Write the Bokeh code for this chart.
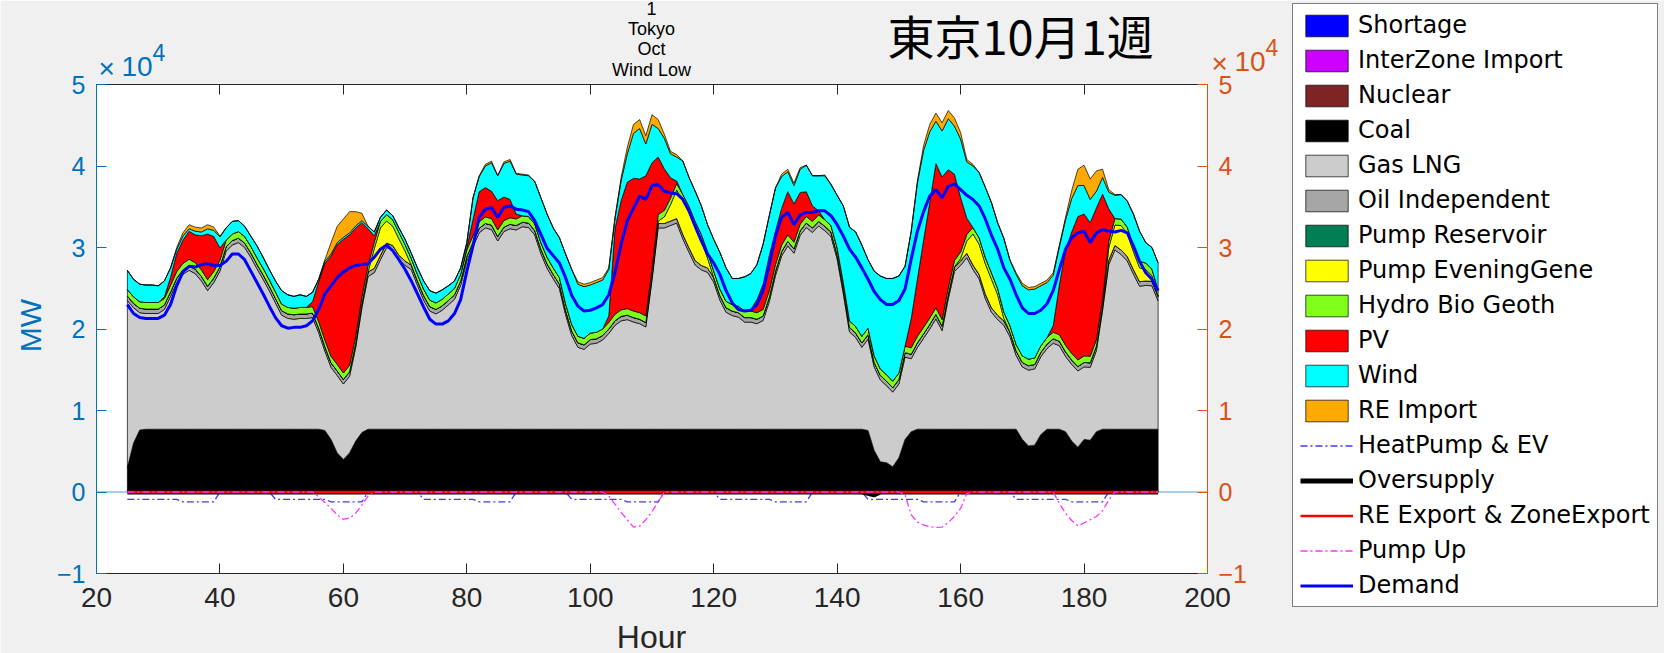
import numpy as np
from bokeh.plotting import figure
from bokeh.layouts import column
from bokeh.models import Range1d, LinearAxis, FixedTicker, Legend, LegendItem, Label, Span, CustomJSTickFormatter
from bokeh.embed import file_html
from bokeh.resources import INLINE

hours = list(range(25, 193))

coal = [3000,6000,7600,7700,7700,7700,7700,7700,7700,7700,7700,7700,7700,7700,7700,7700,7700,7700,7700,7700,7700,7700,7700,7700,
        7700,7700,7700,7700,7700,7700,7700,7700,7550,6450,4800,4000,4800,6250,7300,7700,7700,7700,7700,7700,7700,7700,7700,7700,
        7700,7700,7700,7700,7700,7700,7700,7700,7700,7700,7700,7700,7700,7700,7700,7700,7700,7700,7700,7700,7700,7700,7700,7700,
        7700,7700,7700,7700,7700,7700,7700,7700,7700,7700,7700,7700,7700,7700,7700,7700,7700,7700,7700,7700,7700,7700,7700,7700,
        7700,7700,7700,7700,7700,7700,7700,7700,7700,7700,7700,7700,7700,7700,7700,7700,7700,7700,7700,7700,7700,7700,7700,7700,
        7550,5100,3700,3600,3100,4200,6450,7400,7700,7700,7700,7700,7700,7700,7700,7700,7700,7700,7700,7700,7700,7700,7700,7700,
        7700,6450,5650,5750,7050,7700,7700,7700,7400,6250,5500,6450,6350,7400,7700,7700,7700,7700,7700,7700,7700,7700,7700,7700]

gas = [20500,16600,14400,14200,14200,14200,14700,16300,18000,19000,19500,19100,18200,17000,18000,19400,21850,22600,22900,22300,21100,19700,18400,17000,
       15500,14000,13600,13500,13600,13600,13700,11850,9750,8850,9500,9250,9400,11500,15300,18750,19200,20800,22300,22000,20800,20100,19600,17650,
       15850,14500,14150,14600,15250,15950,17650,20650,22400,24100,24700,24500,23100,24250,24600,24450,24850,24750,23850,21550,19750,18450,17250,14050,
       11500,10050,9800,10450,10550,10950,11750,12750,13300,13450,13150,12950,12550,18300,24700,24700,25000,25300,23350,21700,20150,19550,19250,18050,
       15850,14350,13950,13750,13150,13150,12950,13350,15650,18850,21250,22500,21600,23800,24750,24150,24950,24350,23650,20900,16650,11950,11250,10050,
       11200,10250,10050,9450,9150,9050,10100,8950,10050,11150,12300,13550,12100,16000,19350,20100,21050,19600,18450,16050,14350,13450,12750,11350,
       9050,8900,9300,9350,9550,9900,10550,10250,9250,9400,9350,8900,8950,9950,14600,20200,22000,21450,20650,19050,17550,17650,17600,15750]

oil = [550,550,550,550,550,550,550,550,550,550,550,550,550,550,550,550,550,550,550,550,550,550,550,550,
       550,550,550,550,550,550,550,550,550,550,550,550,550,550,550,550,550,550,550,550,550,550,550,550,
       550,550,550,550,550,550,550,550,550,550,550,550,550,550,550,550,550,550,550,550,550,550,550,550,
       550,550,550,550,550,550,550,550,550,550,550,550,550,550,550,550,550,550,550,550,550,550,550,550,
       550,550,550,550,550,550,550,550,550,550,550,550,550,550,550,550,550,550,550,550,550,550,550,550,
       550,550,550,550,550,550,550,550,550,550,550,550,550,550,550,550,550,550,550,550,550,550,550,550,
       550,550,550,550,550,550,550,550,550,550,550,550,550,550,550,550,550,550,550,550,550,550,550,550]

hydro = [800,800,800,800,800,800,800,800,800,800,800,800,800,800,800,800,800,800,800,800,800,800,800,800,
         800,800,800,800,800,800,800,800,800,800,800,800,800,800,800,800,800,800,800,800,800,800,800,800,
         800,800,800,800,800,800,800,800,800,800,800,800,800,800,800,800,800,800,800,800,800,800,800,800,
         800,800,800,800,800,800,800,800,800,800,800,800,800,800,800,800,800,800,800,800,800,800,800,800,
         800,800,800,800,800,800,800,800,800,800,800,800,800,800,800,800,800,800,800,800,800,800,800,800,
         800,800,800,800,800,800,800,800,800,800,800,800,800,800,800,800,800,800,800,800,800,800,800,800,
         800,800,800,800,800,800,800,800,800,800,800,800,800,800,800,800,800,800,800,800,800,800,800,800]

pump_evening = [0,0,0,0,0,0,0,0,0,0,0,0,0,0,0,0,0,0,0,0,0,0,0,0,
                0,0,0,0,0,0,0,0,0,0,0,0,0,0,0,0,2400,3350,2700,2350,2000,1200,0,0,
                0,0,0,0,0,0,0,0,0,0,0,0,0,0,0,0,0,0,0,0,0,0,0,0,
                0,0,0,0,0,0,0,0,0,0,0,0,0,0,300,800,2000,3500,4100,4300,4000,3000,1200,0,
                0,0,0,0,0,0,0,0,0,0,0,0,0,0,0,0,0,0,0,0,0,0,0,0,
                0,0,0,0,0,0,0,0,0,0,0,0,0,0,0,300,1500,3800,3700,3700,3500,2500,300,0,
                0,0,0,0,0,0,0,0,0,0,0,0,0,0,0,1500,2500,3000,2800,2200,1700,1400,700,0]

pv = [0,0,0,0,0,0,200,1000,2250,2850,3450,3400,4200,5600,4300,1500,0,0,0,0,0,0,0,0,
      0,0,0,0,0,0,600,4900,9400,12300,14700,16400,16000,13300,9100,4500,800,0,0,0,0,0,0,0,
      0,0,0,0,0,0,0,300,2000,3700,3600,3350,3600,2900,2250,600,0,0,0,0,0,0,0,0,
      0,0,0,0,0,0,800,10500,13400,15500,16300,16400,17200,13050,7050,5100,2500,300,0,0,0,0,0,0,
      0,0,0,0,0,200,1600,3100,4300,4100,4500,5300,4700,3900,3050,1900,500,0,0,0,0,0,0,0,
      0,0,0,0,0,0,0,3600,7000,10700,14150,17700,17500,14500,10600,6700,2000,0,0,0,0,0,0,0,
      0,0,0,0,0,0,800,6100,11700,14900,17600,17400,16400,16150,12900,4000,0,0,0,0,0,0,0,0]

wind = [2350,2150,2150,2150,2150,2050,1950,1150,500,500,300,450,450,650,750,1350,1500,1550,1350,1250,1250,1450,1350,1250,
        1350,1650,1550,1450,1550,1350,1150,300,250,250,250,250,250,250,250,300,450,500,550,500,550,650,650,800,
        1000,1150,1200,1150,1000,900,800,600,2650,1850,2650,3500,3050,4100,4700,4900,5000,5000,5200,5500,5300,4900,4900,6100,
        6750,6400,6350,5900,6100,6000,5700,1200,2450,3500,5500,6200,3900,4700,3500,3750,2950,2950,4100,3550,3700,3500,3300,3900,
        4500,4100,3200,3400,4200,4400,4300,4900,4900,5300,3900,2450,2250,2850,3250,3700,4300,5400,5000,6450,9400,11500,11600,11200,
        8400,10400,11400,11800,12600,11900,9800,10700,11800,11000,8700,5200,5650,6250,5900,7150,6900,7550,8000,8600,8600,8000,9000,8000,
        8600,8600,8500,8450,7350,6750,6200,4700,3700,4100,3800,3500,2850,2050,2050,2050,2850,3000,3200,3800,3700,2500,2650,3300]

re_import = [0,0,0,0,0,0,0,0,200,400,500,500,500,500,400,100,0,0,0,0,0,0,0,0,
             0,0,0,0,0,0,0,0,200,1400,2000,2250,2600,1750,900,0,0,0,0,0,0,0,0,0,
             0,0,0,0,0,0,0,0,0,100,200,200,0,200,200,100,100,100,0,0,0,0,0,0,
             0,300,300,300,300,300,200,200,400,800,1100,1100,1000,1200,1100,500,300,300,0,0,0,0,0,0,
             0,0,0,0,0,0,0,0,0,0,300,300,300,200,0,0,0,100,100,0,0,0,0,0,
             0,0,0,0,0,0,0,0,300,600,900,1000,1000,1000,1000,800,300,200,0,0,0,100,100,100,
             200,300,300,300,300,300,300,200,300,1000,2000,2500,2500,2500,1000,300,100,0,0,0,0,0,0,0]

heatpump_ev = [-900,-900,-900,-900,-900,-900,-900,-900,-900,-1200,-1200,-1200,-1200,-1200,-1200,0,0,0,0,0,0,0,0,0,
               -900,-900,-900,-900,-900,-900,-900,-900,-900,-1200,-1200,-1200,-1200,-1200,-1200,0,0,0,0,0,0,0,0,0,
               -900,-900,-900,-900,-900,-900,-900,-900,-900,-1200,-1200,-1200,-1200,-1200,-1200,0,0,0,0,0,0,0,0,0,
               -900,-900,-900,-900,-900,-900,-900,-900,-900,-1200,-1200,-1200,-1200,-1200,-1200,0,0,0,0,0,0,0,0,0,
               -900,-900,-900,-900,-900,-900,-900,-900,-900,-1200,-1200,-1200,-1200,-1200,-1200,0,0,0,0,0,0,0,0,0,
               -900,-900,-900,-900,-900,-900,-900,-900,-900,-1200,-1200,-1200,-1200,-1200,-1200,0,0,0,0,0,0,0,0,0,
               -900,-900,-900,-900,-900,-900,-900,-900,-900,-1200,-1200,-1200,-1200,-1200,-1200,0,0,0,0,0,0,0,0,0]

oversupply = [0]*120 + [-150,-350] + [0]*46

pump_up = [0,0,0,0,0,0,0,0,0,0,0,0,0,0,0,0,0,0,0,0,0,0,0,0,
           0,0,0,0,0,0,0,-600,-1300,-2000,-2800,-3350,-3200,-2600,-1600,-500,0,0,0,0,0,0,0,0,
           0,0,0,0,0,0,0,0,0,0,0,0,0,0,0,0,0,0,0,0,0,0,0,0,
           0,0,0,0,0,0,-500,-1500,-2500,-3400,-4300,-4200,-3400,-2400,-1200,0,0,0,0,0,0,0,0,0,
           0,0,0,0,0,0,0,0,0,0,0,0,0,0,0,0,0,0,0,0,0,0,0,0,
           0,0,0,0,0,0,-300,-2800,-3700,-4050,-4250,-4350,-4300,-3750,-3000,-2000,-200,0,0,0,0,0,0,0,
           0,0,0,0,0,0,0,-1400,-2600,-3500,-4150,-3800,-3400,-3000,-2300,-1000,0,0,0,0,0,0,0,0]

demand = [23000,21900,21400,21300,21300,21300,21700,23000,25300,27000,27700,27600,27900,28000,27800,27800,28300,29200,29200,28500,27100,25700,24300,22800,
          21400,20400,20100,20200,20200,20400,21000,22400,24300,25300,26300,27000,27500,27800,27900,28000,28800,29800,30300,29600,28500,27300,25900,24300,
          22700,21200,20600,20600,21000,21900,23600,27100,30200,33700,34700,34900,33700,34900,35100,34700,34600,34400,33300,31600,29900,29000,28100,26300,
          24100,22800,22200,22300,22600,23000,24200,26900,30400,33300,34800,36300,35900,37600,37700,36900,36700,36600,35900,34500,32600,30800,29200,28100,
          26700,24700,23200,22400,22200,22300,23000,24700,27900,31400,33700,34300,32800,34000,34300,34300,34500,34500,33900,32800,31400,29800,28800,27500,
          26100,24600,23600,23000,23000,23500,24900,28600,32000,34400,36300,37100,36100,37500,37800,37100,36400,35900,35100,33500,31500,29800,27500,26100,
          24200,22600,21900,21900,22300,23100,24700,27300,29800,31200,31800,32000,30600,31800,32200,32000,31900,32100,31800,30200,28300,26900,26100,24700]

shortage = [0] * len(hours)
interzone_import = [0] * len(hours)
nuclear = [0] * len(hours)
pump_reservoir = [0] * len(hours)
re_export = [0] * len(hours)

x_ticks = [20, 40, 60, 80, 100, 120, 140, 160, 180, 200]
y_ticks = [-10000, 0, 10000, 20000, 30000, 40000, 50000]
y_tick_labels = ["\u22121", "0", "1", "2", "3", "4", "5"]

BLUE_AX = "#0072BD"
ORANGE_AX = "#D95319"
DARK = "#262626"
DASHDOT = "7 3 2 3"

# ---------------- main chart ----------------
p = figure(width=1664, height=653, x_range=Range1d(20, 200), y_range=Range1d(-10000, 50000),
           output_backend="svg", toolbar_location=None,
           min_border_left=96, min_border_right=457, min_border_top=84, min_border_bottom=80)
try:
    p.frame_align = False
except Exception:
    pass
p.border_fill_color = "#F0F0F0"
p.background_fill_color = "white"
p.outline_line_color = None
p.xgrid.visible = False
p.ygrid.visible = False

p.add_layout(Span(location=0, dimension="width", line_color="#4A9FD8", line_width=1.2, level="underlay"))

x = np.array(hours, dtype=float)
layers = [
    ("Shortage", shortage, "#0000FF"),
    ("InterZone Import", interzone_import, "#CC00FF"),
    ("Nuclear", nuclear, "#7F2424"),
    ("Coal", coal, "#000000"),
    ("Gas LNG", gas, "#CCCCCC"),
    ("Oil Independent", oil, "#A6A6A6"),
    ("Pump Reservoir", pump_reservoir, "#007F55"),
    ("Pump EveningGene", pump_evening, "#FFFF00"),
    ("Hydro Bio Geoth", hydro, "#80FF1A"),
    ("PV", pv, "#FF0000"),
    ("Wind", wind, "#00FFFF"),
    ("RE Import", re_import, "#FFAA00"),
]
bottom = np.zeros(len(hours))
for name, vals, col in layers:
    top = bottom + np.array(vals, dtype=float)
    xs = np.concatenate([x, x[::-1]])
    ys = np.concatenate([top, bottom[::-1]])
    p.patch(xs, ys, fill_color=col, line_color="black", line_width=0.7)
    bottom = top

line_series = [
    ("HeatPump & EV", heatpump_ev, dict(line_color="#3B3BFF", line_width=1.3, line_dash=DASHDOT)),
    ("Oversupply", oversupply, dict(line_color="black", line_width=5)),
    ("RE Export & ZoneExport", re_export, dict(line_color="#FF0000", line_width=2.5)),
    ("Pump Up", pump_up, dict(line_color="#FF33FF", line_width=1.3, line_dash=DASHDOT)),
    ("Demand", demand, dict(line_color="#0000FF", line_width=3)),
]
for name, vals, kw in line_series:
    p.line(x, np.array(vals, dtype=float), **kw)

xa = p.xaxis[0]
xa.ticker = FixedTicker(ticks=x_ticks)
xa.major_label_text_font = "Liberation Sans"
xa.major_label_text_font_size = "28px"
xa.major_label_text_color = DARK
xa.axis_line_color = DARK
xa.major_tick_line_color = DARK
xa.major_tick_in = 10
xa.major_tick_out = 0
xa.minor_tick_line_color = None
xa.major_label_standoff = 14

ya = p.yaxis[0]
ya.ticker = FixedTicker(ticks=y_ticks)
ya.major_label_overrides = {t: s for t, s in zip(y_ticks, y_tick_labels)}
ya.major_label_text_font = "Liberation Sans"
ya.major_label_text_font_size = "25px"
ya.major_label_text_color = BLUE_AX
ya.axis_line_color = BLUE_AX
ya.major_tick_line_color = BLUE_AX
ya.major_tick_in = 10
ya.major_tick_out = 0
ya.minor_tick_line_color = None
ya.major_label_standoff = 11

p.extra_y_ranges = {"r": Range1d(-10000, 50000)}
ra = LinearAxis(y_range_name="r", ticker=FixedTicker(ticks=y_ticks))
ra.major_label_overrides = {t: s for t, s in zip(y_ticks, y_tick_labels)}
ra.major_label_text_font = "Liberation Sans"
ra.major_label_text_font_size = "25px"
ra.major_label_text_color = ORANGE_AX
ra.axis_line_color = ORANGE_AX
ra.major_tick_line_color = ORANGE_AX
ra.major_tick_in = 10
ra.major_tick_out = 0
ra.minor_tick_line_color = None
ra.major_label_standoff = 11
p.add_layout(ra, "right")

ta = LinearAxis(ticker=FixedTicker(ticks=x_ticks), formatter=CustomJSTickFormatter(code="return ''"))
ta.axis_line_color = DARK
ta.major_tick_line_color = DARK
ta.major_tick_in = 10
ta.major_tick_out = 0
ta.minor_tick_line_color = None
ta.major_label_standoff = 0
p.add_layout(ta, "above")

# ---------------- transparent overlay for texts and legend (pixel coordinates) ----------------
ov = figure(frame_width=1664, frame_height=653, x_range=Range1d(0, 1664), y_range=Range1d(653, 0),
            x_axis_location=None, y_axis_location=None, output_backend="svg", toolbar_location=None,
            min_border_left=0, min_border_right=0, min_border_top=0, min_border_bottom=0)
try:
    ov.frame_align = False
except Exception:
    pass
ov.background_fill_alpha = 0
ov.border_fill_alpha = 0
ov.outline_line_color = None
ov.grid.visible = False
ov.styles = {"margin-top": "-653px"}

def lab(text, xv, yv, size, color="black", font="Liberation Sans", align="center", baseline="middle", angle=0):
    ov.add_layout(Label(x=xv, y=yv, text=text, text_font=font, text_font_size=size, text_color=color,
                        text_align=align, text_baseline=baseline, angle=angle))

lab("1", 651, 8, "18px")
lab("Tokyo", 651, 28, "18px")
lab("Oct", 651, 48.5, "18px")
lab("Wind Low", 651, 69, "18px")
lab("東京10月1週", 887, 34, "47px", font="Noto Sans CJK JP", align="left")
lab("Hour", 651, 636, "32px", color=DARK)
lab("MW", 30, 325, "30px", color=BLUE_AX, angle=np.pi / 2)
# exponent labels (x10^4) of both y axes
lab("\u00d7", 98, 68, "28px", color=BLUE_AX, align="left")
lab("10", 121, 65.5, "28px", color=BLUE_AX, align="left")
lab("4", 152, 52, "23px", color=BLUE_AX, align="left")
lab("\u00d7", 1211, 63, "28px", color=ORANGE_AX, align="left")
lab("10", 1234, 60.5, "28px", color=ORANGE_AX, align="left")
lab("4", 1265, 47, "23px", color=ORANGE_AX, align="left")

items = []
for name, vals, col in layers:
    r = ov.patch(x=[np.nan], y=[np.nan], fill_color=col, line_color="black", line_width=0.7)
    items.append(LegendItem(label=name, renderers=[r]))
for name, vals, kw in line_series:
    r = ov.line(x=[np.nan], y=[np.nan], **kw)
    items.append(LegendItem(label=name, renderers=[r]))

legend = Legend(items=items, location=(1292, 46))
legend.label_text_font = "DejaVu Sans"
legend.label_text_font_size = "24px"
legend.label_text_color = "black"
legend.glyph_width = 53
legend.glyph_height = 27
legend.label_height = 27
legend.spacing = 7
legend.padding = 7
legend.margin = 0
legend.label_standoff = 5
legend.border_line_color = "black"
legend.border_line_width = 1
legend.background_fill_color = "white"
legend.background_fill_alpha = 1
ov.add_layout(legend)

layout = column(p, ov)
open("out.html", "w").write(file_html(layout, INLINE))
